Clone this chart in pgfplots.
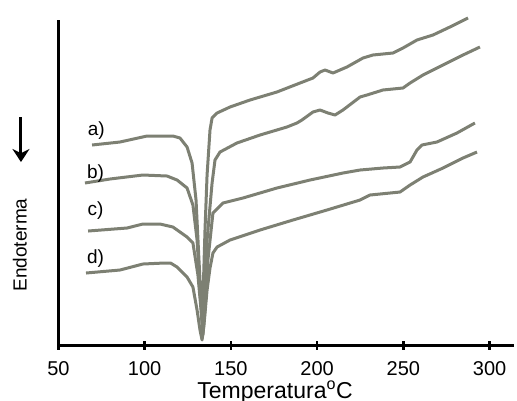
\documentclass[border=0pt]{standalone}
\usepackage{fontspec}
\setmainfont{Liberation Sans}
\usepackage{pgfplots}
\pgfplotsset{compat=1.18}
\usetikzlibrary{arrows.meta}
\definecolor{trace}{RGB}{125,128,115}
\pgfplotsset{dsc/.style={trace, line width=3pt, line join=round, mark=none}}

\begin{document}
\begin{tikzpicture}
\begin{axis}[
  x=1.7246pt, y=1pt,
  xmin=50, xmax=314, ymin=0, ymax=325,
  axis x line=bottom, axis y line=left,
  axis line style={-, line width=3pt},
  xtick={50,100,...,300}, ytick=\empty,
  tick align=center, major tick length=9pt,
  xtick style={line width=2.5pt, black},
  xticklabel style={font=\fontsize{20}{22}\selectfont, anchor=base, yshift=-26pt},
  /pgf/number format/assume math mode=true,
  clip=false,
]
% a)
\addplot[dsc] coordinates {(69.5,200) (85.7,203) (101.4,209) (116.4,209) (120.5,207) (124.6,198) (127.5,182) (129.8,145) (131.5,85) (132.7,45) (133.3,30) (133.8,45) (135.0,115) (136.2,170) (137.9,215) (139.1,227) (142.0,232) (149.5,238) (161.1,245) (176.7,253) (190.1,262) (197.6,267) (201.7,273) (204.6,275) (209.2,272) (217.3,278) (226.6,287) (232.4,290) (244.0,292) (249.8,297) (257.9,305) (267.2,310) (277.0,318) (287.5,327)};
% b)
\addplot[dsc] coordinates {(65.4,162) (79.9,166) (99.0,170) (113.0,169) (118.8,165) (124.6,157) (128.0,140) (130.4,105) (132.1,55) (133.3,23) (134.4,45) (136.2,105) (139.1,162) (140.8,185) (143.7,193) (153.5,202) (166.9,210) (182.5,218) (188.3,222) (191.2,225) (197.6,233) (201.7,235) (206.3,232) (210.4,230) (215.0,235) (224.9,248) (228.9,250) (238.2,255) (249.8,257) (253.9,262) (261.4,270) (273.0,280) (284.6,290) (294.4,298)};
% c)
\addplot[dsc] coordinates {(67.2,114) (89.8,117) (99.0,121) (108.9,121) (116.4,118) (124.6,108) (128.0,102) (130.9,70) (132.7,35) (133.8,10) (135.0,35) (136.7,85) (139.6,132) (145.4,142) (157.0,147) (176.7,157) (195.9,165) (215.0,172) (224.9,175) (238.2,177) (248.1,178) (253.9,183) (257.9,195) (260.8,200) (269.5,203) (281.1,212) (291.5,222)};
% d)
\addplot[dsc] coordinates {(66.0,72) (85.7,75) (99.0,81) (111.3,82) (115.0,82) (118.8,78) (124.6,68) (128.0,58) (130.4,35) (132.1,15) (133.3,5) (134.4,20) (136.2,55) (137.9,77) (139.6,92) (142.0,98) (149.5,105) (166.9,115) (186.0,125) (205.7,135) (224.9,145) (230.7,150) (248.1,153) (253.9,160) (261.4,168) (273.0,177) (284.6,187) (292.7,193)};

\node[font=\fontsize{19}{21}\selectfont] at (axis cs:72.0,214) {a)};
\node[font=\fontsize{19}{21}\selectfont] at (axis cs:71.5,171) {b)};
\node[font=\fontsize{19}{21}\selectfont] at (axis cs:71.5,134) {c)};
\node[font=\fontsize{19}{21}\selectfont] at (axis cs:71.5,86) {d)};

\node[font=\fontsize{23}{25}\selectfont, anchor=base] at (axis cs:175.6,-53) {Temperatura\textsuperscript{o}C};
\node[font=\fontsize{19}{21}\selectfont, rotate=90] at (axis cs:27.7,100) {Endoterma};
\draw[-{Stealth[length=13pt,width=17pt]}, line width=3pt, black] (axis cs:28.3,228) -- (axis cs:28.3,183);

\coordinate (bbl) at (axis cs:16.14,-55);
\coordinate (btr) at (axis cs:315.9,345);
\end{axis}
\pgfresetboundingbox
\path[use as bounding box] (bbl) rectangle (btr);
\end{tikzpicture}
\end{document}
